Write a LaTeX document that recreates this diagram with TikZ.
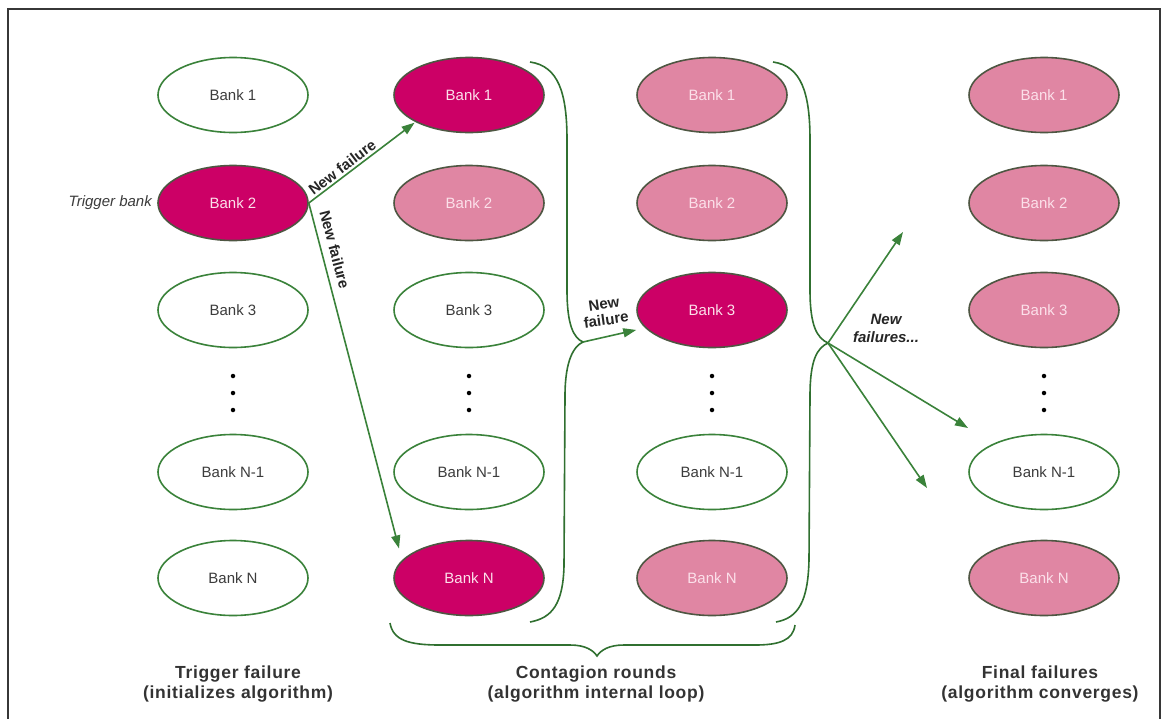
\documentclass[tikz,border=0pt]{standalone}
\usepackage{fontspec}
\setmainfont{Liberation Sans}
\usetikzlibrary{arrows.meta,shapes.geometric}

\definecolor{frameC}{RGB}{55,55,55}
\definecolor{grn}{RGB}{58,130,58}
\definecolor{dgrn}{RGB}{48,112,48}
\definecolor{hot}{RGB}{204,0,102}
\definecolor{rose}{RGB}{224,134,163}
\definecolor{roseText}{RGB}{252,224,234}
\definecolor{edgeDark}{RGB}{78,86,66}
\definecolor{txt}{RGB}{60,60,60}

\tikzset{
  bankbase/.style={ellipse, minimum width=150pt, minimum height=75pt, inner sep=0pt,
    line width=1.6pt, font=\fontsize{15}{18}\selectfont},
  bankok/.style={bankbase, draw=grn, fill=white, text=txt},
  bankhit/.style={bankbase, draw=edgeDark, fill=hot, text=roseText},
  bankpast/.style={bankbase, draw=edgeDark, fill=rose, text=roseText},
  flowarrow/.style={draw=grn, line width=1.6pt, -{Triangle[length=13pt,width=9pt]}},
  bracepath/.style={draw=dgrn, line width=1.6pt},
  flowtag/.style={font=\fontsize{15}{16}\selectfont\bfseries, text=black!85, inner sep=1pt, align=center},
  colcaption/.style={font=\fontsize{17.5}{20.5}\selectfont\bfseries\addfontfeatures{LetterSpace=4},
    align=center, text=black!80},
  vdot/.style={circle, fill=black, inner sep=0pt, minimum size=4.5pt}
}

\begin{document}
\begin{tikzpicture}[x=1pt,y=-1pt]
  \useasboundingbox[fill=white] (0,0) rectangle (1162,718);

  % outer frame (open at the bottom)
  \draw[frameC, line width=2pt] (8,730) -- (8,9) -- (1160,9) -- (1160,730);

  % column 1: trigger failure
  \node[bankok]  (a1) at (233,95)  {Bank 1};
  \node[bankhit] (a2) at (233,203) {Bank 2};
  \node[bankok]  (a3) at (233,310) {Bank 3};
  \node[bankok]  (a4) at (233,472) {Bank N-1};
  \node[bankok]  (a5) at (233,578) {Bank N};
  \node[vdot] (ad1) at (233,376) {};
  \node[vdot] (ad2) at (233,393) {};
  \node[vdot] (ad3) at (233,410) {};

  % column 2: first contagion round
  \node[bankhit]  (b1) at (469,95)  {Bank 1};
  \node[bankpast] (b2) at (469,203) {Bank 2};
  \node[bankok]   (b3) at (469,310) {Bank 3};
  \node[bankok]   (b4) at (469,472) {Bank N-1};
  \node[bankhit]  (b5) at (469,578) {Bank N};
  \node[vdot] (bd1) at (469,376) {};
  \node[vdot] (bd2) at (469,393) {};
  \node[vdot] (bd3) at (469,410) {};

  % column 3: next contagion round
  \node[bankpast] (c1) at (712,95)  {Bank 1};
  \node[bankpast] (c2) at (712,203) {Bank 2};
  \node[bankhit]  (c3) at (712,310) {Bank 3};
  \node[bankok]   (c4) at (712,472) {Bank N-1};
  \node[bankpast] (c5) at (712,578) {Bank N};
  \node[vdot] (cd1) at (712,376) {};
  \node[vdot] (cd2) at (712,393) {};
  \node[vdot] (cd3) at (712,410) {};

  % column 4: final failures
  \node[bankpast] (d1) at (1044,95)  {Bank 1};
  \node[bankpast] (d2) at (1044,203) {Bank 2};
  \node[bankpast] (d3) at (1044,310) {Bank 3};
  \node[bankok]   (d4) at (1044,472) {Bank N-1};
  \node[bankpast] (d5) at (1044,578) {Bank N};
  \node[vdot] (dd1) at (1044,376) {};
  \node[vdot] (dd2) at (1044,393) {};
  \node[vdot] (dd3) at (1044,410) {};

  \node[anchor=east, font=\fontsize{15}{18}\selectfont\itshape, text=txt, inner sep=0pt]
    (trig) at (152,203) {Trigger bank};

  % first failures spreading from the trigger bank
  \draw[flowarrow, shorten >=1pt] (a2.east) -- (b1.south west)
    node[flowtag, pos=0.36, above=1pt, sloped] {New failure};
  \draw[flowarrow, shorten >=12pt] (a2.east) -- (b5.165)
    node[flowtag, pos=0.14, above=6pt, sloped] {New failure};

  % brace closing column 2
  \coordinate (tipA) at (583,342);
  \draw[bracepath] (530,62) .. controls (558,66) and (567,92) .. (567,140)
    -- (567,290) .. controls (567,326) and (574,338) .. (tipA)
    .. controls (574,346) and (565,360) .. (565,396)
    -- (564,566) .. controls (563,604) and (552,618) .. (530,622);

  \draw[flowarrow, shorten >=9pt] (tipA) -- (c3.195);
  \node[flowtag, rotate=8] (tagA) at (605,312) {New\\failure};

  % brace closing column 3
  \coordinate (tipB) at (828,343);
  \draw[bracepath] (773,62) .. controls (801,66) and (810,92) .. (810,140)
    -- (810,290) .. controls (810,326) and (817,338) .. (tipB)
    .. controls (817,348) and (810,360) .. (810,396)
    -- (809,560) .. controls (808,602) and (798,618) .. (776,622);

  \coordinate (outA) at (903,232);
  \coordinate (outB) at (968,428);
  \coordinate (outC) at (927,488);
  \draw[flowarrow] (tipB) -- (outA);
  \draw[flowarrow] (tipB) -- (outB);
  \draw[flowarrow] (tipB) -- (outC);
  \node[flowtag, font=\fontsize{15}{18}\selectfont\bfseries\itshape] (tagB) at (886,328) {New\\failures...};

  % brace under the contagion rounds
  \coordinate (tipC) at (597,656);
  \draw[bracepath] (390,623) .. controls (393,640) and (408,645) .. (440,645)
    -- (570,645) .. controls (585,645) and (593,650) .. (tipC)
    .. controls (601,650) and (609,645) .. (624,645)
    -- (755,645) .. controls (780,645) and (793,640) .. (795,625);

  % column captions
  \node[colcaption] (capA) at (238,684) {Trigger failure\\(initializes algorithm)};
  \node[colcaption] (capB) at (596,684) {Contagion rounds\\(algorithm internal loop)};
  \node[colcaption] (capC) at (1040,684) {Final failures\\(algorithm converges)};
\end{tikzpicture}
\end{document}
